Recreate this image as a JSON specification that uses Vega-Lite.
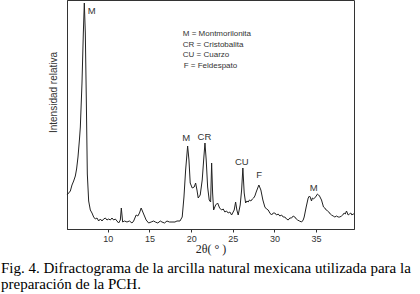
{
  "$schema": "https://vega.github.io/schema/vega-lite/v6.json",
  "width": 287,
  "height": 229,
  "autosize": {"type": "none"},
  "padding": {"left": 67, "top": 0, "right": 66, "bottom": 65},
  "config": {"view": {"stroke": "#333", "strokeWidth": 1}},
  "title": {
    "text": ["Fig. 4. Difractograma de la arcilla natural mexicana utilizada para la", "preparación de la PCH."],
    "orient": "bottom",
    "anchor": "start",
    "frame": "group",
    "dx": -66,
    "offset": 7,
    "font": "Liberation Serif",
    "fontSize": 15,
    "fontWeight": "normal",
    "color": "#000",
    "lineHeight": 16
  },
  "data": {"values": [
      {"two_theta": 5.10, "intensity": 34}, {"two_theta": 5.3, "intensity": 36}, {"two_theta": 5.5, "intensity": 38},
      {"two_theta": 5.7, "intensity": 44}, {"two_theta": 5.9, "intensity": 48}, {"two_theta": 6.1, "intensity": 53},
      {"two_theta": 6.25, "intensity": 60}, {"two_theta": 6.42, "intensity": 72}, {"two_theta": 6.6, "intensity": 90},
      {"two_theta": 6.7, "intensity": 102}, {"two_theta": 6.9, "intensity": 146}, {"two_theta": 7.06, "intensity": 196},
      {"two_theta": 7.18, "intensity": 226}, {"two_theta": 7.3, "intensity": 196}, {"two_theta": 7.42, "intensity": 129},
      {"two_theta": 7.54, "intensity": 55}, {"two_theta": 7.7, "intensity": 28}, {"two_theta": 7.9, "intensity": 19},
      {"two_theta": 8.1, "intensity": 16}, {"two_theta": 8.3, "intensity": 12}, {"two_theta": 8.5, "intensity": 10},
      {"two_theta": 8.7, "intensity": 11}, {"two_theta": 8.9, "intensity": 8}, {"two_theta": 9.1, "intensity": 10},
      {"two_theta": 9.3, "intensity": 8}, {"two_theta": 9.5, "intensity": 10}, {"two_theta": 9.7, "intensity": 11},
      {"two_theta": 9.9, "intensity": 9}, {"two_theta": 10.1, "intensity": 10}, {"two_theta": 10.3, "intensity": 9},
      {"two_theta": 10.5, "intensity": 11}, {"two_theta": 10.7, "intensity": 9}, {"two_theta": 10.9, "intensity": 10},
      {"two_theta": 11.1, "intensity": 8}, {"two_theta": 11.3, "intensity": 6}, {"two_theta": 11.5, "intensity": 9},
      {"two_theta": 11.62, "intensity": 21}, {"two_theta": 11.78, "intensity": 7}, {"two_theta": 12.0, "intensity": 8},
      {"two_theta": 12.3, "intensity": 7}, {"two_theta": 12.6, "intensity": 8}, {"two_theta": 12.9, "intensity": 6},
      {"two_theta": 13.1, "intensity": 8}, {"two_theta": 13.4, "intensity": 14}, {"two_theta": 13.6, "intensity": 13},
      {"two_theta": 13.8, "intensity": 16}, {"two_theta": 14.0, "intensity": 21}, {"two_theta": 14.15, "intensity": 18},
      {"two_theta": 14.25, "intensity": 16}, {"two_theta": 14.45, "intensity": 12}, {"two_theta": 14.6, "intensity": 9},
      {"two_theta": 14.9, "intensity": 6}, {"two_theta": 15.2, "intensity": 7}, {"two_theta": 15.5, "intensity": 8},
      {"two_theta": 15.7, "intensity": 7}, {"two_theta": 16.0, "intensity": 6}, {"two_theta": 16.3, "intensity": 8},
      {"two_theta": 16.5, "intensity": 7}, {"two_theta": 16.8, "intensity": 6}, {"two_theta": 17.1, "intensity": 8},
      {"two_theta": 17.4, "intensity": 7}, {"two_theta": 17.7, "intensity": 7}, {"two_theta": 18.06, "intensity": 7},
      {"two_theta": 18.3, "intensity": 8}, {"two_theta": 18.66, "intensity": 8}, {"two_theta": 18.93, "intensity": 12},
      {"two_theta": 19.14, "intensity": 32}, {"two_theta": 19.34, "intensity": 59}, {"two_theta": 19.58, "intensity": 83},
      {"two_theta": 19.74, "intensity": 69}, {"two_theta": 19.89, "intensity": 46}, {"two_theta": 20.13, "intensity": 41},
      {"two_theta": 20.37, "intensity": 42}, {"two_theta": 20.54, "intensity": 46}, {"two_theta": 20.7, "intensity": 39},
      {"two_theta": 20.85, "intensity": 31}, {"two_theta": 21.09, "intensity": 34}, {"two_theta": 21.33, "intensity": 49},
      {"two_theta": 21.53, "intensity": 72}, {"two_theta": 21.66, "intensity": 86}, {"two_theta": 21.81, "intensity": 69},
      {"two_theta": 21.98, "intensity": 42}, {"two_theta": 22.17, "intensity": 29}, {"two_theta": 22.34, "intensity": 27},
      {"two_theta": 22.46, "intensity": 66}, {"two_theta": 22.58, "intensity": 36}, {"two_theta": 22.7, "intensity": 19},
      {"two_theta": 22.94, "intensity": 24}, {"two_theta": 23.18, "intensity": 26}, {"two_theta": 23.42, "intensity": 21},
      {"two_theta": 23.66, "intensity": 19}, {"two_theta": 23.85, "intensity": 20}, {"two_theta": 24.05, "intensity": 17},
      {"two_theta": 24.25, "intensity": 18}, {"two_theta": 24.45, "intensity": 16}, {"two_theta": 24.65, "intensity": 17},
      {"two_theta": 24.86, "intensity": 14}, {"two_theta": 25.17, "intensity": 19}, {"two_theta": 25.34, "intensity": 27},
      {"two_theta": 25.49, "intensity": 19}, {"two_theta": 25.65, "intensity": 14}, {"two_theta": 25.89, "intensity": 24},
      {"two_theta": 26.06, "intensity": 39}, {"two_theta": 26.21, "intensity": 61}, {"two_theta": 26.37, "intensity": 36},
      {"two_theta": 26.54, "intensity": 26}, {"two_theta": 26.7, "intensity": 28}, {"two_theta": 26.85, "intensity": 27},
      {"two_theta": 27.0, "intensity": 29}, {"two_theta": 27.17, "intensity": 28}, {"two_theta": 27.35, "intensity": 30},
      {"two_theta": 27.5, "intensity": 31}, {"two_theta": 27.65, "intensity": 33}, {"two_theta": 27.81, "intensity": 37},
      {"two_theta": 28.13, "intensity": 44}, {"two_theta": 28.37, "intensity": 39}, {"two_theta": 28.61, "intensity": 29},
      {"two_theta": 28.85, "intensity": 22}, {"two_theta": 29.05, "intensity": 20}, {"two_theta": 29.25, "intensity": 19},
      {"two_theta": 29.45, "intensity": 16}, {"two_theta": 29.66, "intensity": 14}, {"two_theta": 29.85, "intensity": 16},
      {"two_theta": 30.05, "intensity": 16}, {"two_theta": 30.25, "intensity": 14}, {"two_theta": 30.45, "intensity": 15},
      {"two_theta": 30.65, "intensity": 13}, {"two_theta": 30.86, "intensity": 14}, {"two_theta": 31.05, "intensity": 12},
      {"two_theta": 31.25, "intensity": 12}, {"two_theta": 31.45, "intensity": 10}, {"two_theta": 31.65, "intensity": 9},
      {"two_theta": 31.85, "intensity": 11}, {"two_theta": 32.06, "intensity": 11}, {"two_theta": 32.25, "intensity": 13},
      {"two_theta": 32.45, "intensity": 12}, {"two_theta": 32.62, "intensity": 10}, {"two_theta": 32.78, "intensity": 9},
      {"two_theta": 33.0, "intensity": 8}, {"two_theta": 33.26, "intensity": 7}, {"two_theta": 33.45, "intensity": 9},
      {"two_theta": 33.57, "intensity": 12}, {"two_theta": 33.81, "intensity": 22}, {"two_theta": 34.05, "intensity": 31},
      {"two_theta": 34.2, "intensity": 33}, {"two_theta": 34.29, "intensity": 32}, {"two_theta": 34.45, "intensity": 28},
      {"two_theta": 34.55, "intensity": 31}, {"two_theta": 34.69, "intensity": 30}, {"two_theta": 34.93, "intensity": 32},
      {"two_theta": 35.17, "intensity": 35}, {"two_theta": 35.3, "intensity": 34}, {"two_theta": 35.41, "intensity": 33},
      {"two_theta": 35.65, "intensity": 29}, {"two_theta": 35.89, "intensity": 22}, {"two_theta": 36.05, "intensity": 21},
      {"two_theta": 36.21, "intensity": 19}, {"two_theta": 36.4, "intensity": 18}, {"two_theta": 36.53, "intensity": 17},
      {"two_theta": 36.7, "intensity": 15}, {"two_theta": 36.85, "intensity": 14}, {"two_theta": 37.05, "intensity": 13},
      {"two_theta": 37.25, "intensity": 12}, {"two_theta": 37.45, "intensity": 13}, {"two_theta": 37.65, "intensity": 12},
      {"two_theta": 37.85, "intensity": 12}, {"two_theta": 38.05, "intensity": 13}, {"two_theta": 38.2, "intensity": 14},
      {"two_theta": 38.37, "intensity": 16}, {"two_theta": 38.5, "intensity": 15}, {"two_theta": 38.65, "intensity": 18},
      {"two_theta": 38.85, "intensity": 14}, {"two_theta": 39.0, "intensity": 15}, {"two_theta": 39.17, "intensity": 16},
      {"two_theta": 39.3, "intensity": 14}, {"two_theta": 39.45, "intensity": 15}, {"two_theta": 39.55, "intensity": 15}
  ]},
  "encoding": {
    "x": {
      "field": "two_theta",
      "type": "quantitative",
      "scale": {"domain": [5.1, 39.55], "nice": false, "zero": false},
      "axis": {
        "values": [10, 15, 20, 25, 30, 35],
        "grid": false,
        "domainColor": "#333",
        "tickSize": 3,
        "tickColor": "#333",
        "labelFont": "Liberation Sans",
        "labelFontSize": 9,
        "labelColor": "#333",
        "labelPadding": 2,
        "title": "2θ( ° )",
        "titleFont": "Liberation Serif",
        "titleFontSize": 12,
        "titleFontWeight": "normal",
        "titleColor": "#222",
        "titlePadding": 0
      }
    },
    "y": {
      "field": "intensity",
      "type": "quantitative",
      "scale": {"domain": [0, 229], "nice": false},
      "axis": {
        "grid": false,
        "ticks": false,
        "labels": false,
        "domainColor": "#333",
        "title": "Intensidad relativa",
        "titleFont": "Liberation Sans",
        "titleFontSize": 10,
        "titleFontWeight": "normal",
        "titleColor": "#333",
        "titleX": -9,
        "titleY": 92
      }
    }
  },
  "layer": [
    {
      "data": {"values": [{"frame": "plot"}]},
      "mark": {"type": "rect", "fill": null, "stroke": "#333", "strokeWidth": 1, "strokeOpacity": 1},
      "encoding": {
        "x": {"datum": 5.1, "type": "quantitative"},
        "x2": {"datum": 39.55},
        "y": {"datum": 0, "type": "quantitative"},
        "y2": {"datum": 229}
      }
    },
    {
      "mark": {"type": "line", "color": "#222", "strokeWidth": 1}
    },
    {
      "data": {"values": [
        {"label": "M", "two_theta": 8.06, "intensity": 218},
        {"label": "M", "two_theta": 19.4, "intensity": 91},
        {"label": "CR", "two_theta": 21.6, "intensity": 92},
        {"label": "CU", "two_theta": 26.09, "intensity": 67},
        {"label": "F", "two_theta": 28.16, "intensity": 54},
        {"label": "M", "two_theta": 34.7, "intensity": 41}
      ]},
      "mark": {"type": "text", "font": "Liberation Sans", "fontSize": 9.5, "color": "#333", "baseline": "middle", "align": "center"},
      "encoding": {"text": {"field": "label"}}
    },
    {
      "data": {"values": [
        {"label": "M = Montmorilonita", "two_theta": 19.0, "intensity": 195},
        {"label": "CR = Cristobalita", "two_theta": 19.0, "intensity": 184},
        {"label": "CU = Cuarzo", "two_theta": 19.0, "intensity": 174},
        {"label": "F = Feldespato", "two_theta": 19.1, "intensity": 163}
      ]},
      "mark": {"type": "text", "font": "Liberation Sans", "fontSize": 8, "color": "#333", "baseline": "middle", "align": "left"},
      "encoding": {"text": {"field": "label"}}
    }
  ]
}
